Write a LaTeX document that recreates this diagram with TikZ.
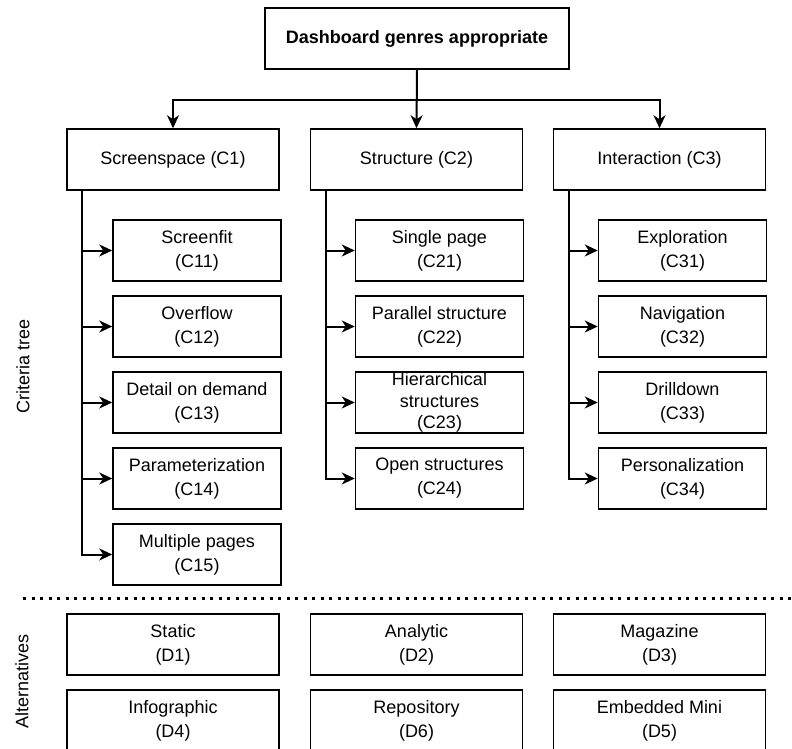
\documentclass[tikz,border=0pt]{standalone}
\usepackage{fontspec}
\setmainfont{Liberation Sans}
\usetikzlibrary{arrows.meta}
\begin{document}
\begin{tikzpicture}[x=1pt,y=-1pt,
  every node/.style={font=\fontsize{18pt}{24pt}\selectfont},
  box/.style={draw=black,line width=1.5pt,inner sep=0pt,align=center,
    minimum height=61pt},
  mainbox/.style={box,minimum width=212pt},
  subbox/.style={box,minimum width=168pt},
  topbox/.style={box,minimum width=304pt,font=\fontsize{18pt}{21.6pt}\selectfont\bfseries},
  arr/.style={line width=2pt,-{Stealth[length=13pt,width=12pt,inset=4pt]}},
  sidelabel/.style={rotate=90,anchor=center}
]
\useasboundingbox (0,0) rectangle (792,749);

% root
\node[topbox] (root) at (417,38.5) {Dashboard genres appropriate};

% first-level criteria
\node[mainbox] (C1) at (173,159.5) {Screenspace (C1)};
\node[mainbox] (C2) at (416.5,159.5) {Structure (C2)};
\node[mainbox] (C3) at (659.5,159.5) {Interaction (C3)};

\draw[arr] (root.south) -- (C2.north);
\draw[arr] (root.south) -- ++(0,30) -| (C1.north);
\draw[arr] (root.south) -- ++(0,30) -| (C3.north);

% sub-criteria of C1
\node[subbox] (C11) at (197,250.5) {Screenfit\\(C11)};
\node[subbox] (C12) at (197,326.5) {Overflow\\(C12)};
\node[subbox] (C13) at (197,402.5) {Detail on demand\\(C13)};
\node[subbox] (C14) at (197,478.5) {Parameterization\\(C14)};
\node[subbox] (C15) at (197,554.5) {Multiple pages\\(C15)};

% sub-criteria of C2
\node[subbox] (C21) at (439.5,250.5) {Single page\\(C21)};
\node[subbox] (C22) at (439.5,326.5) {Parallel structure\\(C22)};
\node[subbox] (C23) at (439.5,402.5) {};
\node[align=center,font=\fontsize{18pt}{21.6pt}\selectfont] (C23text) at (C23.center) {Hierarchical\\structures\\(C23)};
\node[subbox] (C24) at (439.5,478.5) {Open structures\\(C24)};

% sub-criteria of C3
\node[subbox] (C31) at (682.5,250.5) {Exploration\\(C31)};
\node[subbox] (C32) at (682.5,326.5) {Navigation\\(C32)};
\node[subbox] (C33) at (682.5,402.5) {Drilldown\\(C33)};
\node[subbox] (C34) at (682.5,478.5) {Personalization\\(C34)};

% tree connectors
\foreach \c in {C11,C12,C13,C14,C15}
  \draw[arr] ([xshift=16pt]C1.south west) |- (\c.west);
\foreach \c in {C21,C22,C23,C24}
  \draw[arr] ([xshift=16pt]C2.south west) |- (\c.west);
\foreach \c in {C31,C32,C33,C34}
  \draw[arr] ([xshift=16pt]C3.south west) |- (\c.west);

% separator
\coordinate (sepL) at (23,598);
\coordinate (sepR) at (792,598);
\draw[line width=3pt,dash pattern=on 3pt off 5.5pt] (sepL) -- (sepR);

% alternatives
\node[mainbox] (D1) at (173,644.5) {Static\\(D1)};
\node[mainbox] (D2) at (416.5,644.5) {Analytic\\(D2)};
\node[mainbox] (D3) at (659.5,644.5) {Magazine\\(D3)};
\node[mainbox] (D4) at (173,720.5) {Infographic\\(D4)};
\node[mainbox] (D6) at (416.5,720.5) {Repository\\(D6)};
\node[mainbox] (D5) at (659.5,720.5) {Embedded Mini\\(D5)};

% side labels
\node[sidelabel] (crit) at (23,366) {Criteria tree};
\node[sidelabel] (alt) at (22,681.5) {Alternatives};
\end{tikzpicture}
\end{document}
